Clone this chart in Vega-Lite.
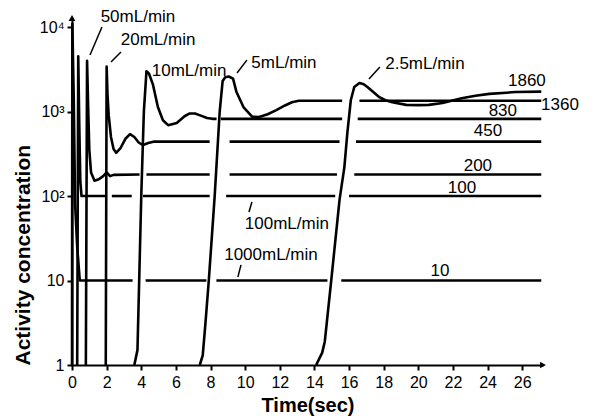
{
  "$schema": "https://vega.github.io/schema/vega-lite/v6.json",
  "width": 471,
  "height": 347,
  "autosize": {"type": "none"},
  "padding": {"left": 72, "top": 18, "right": 52, "bottom": 54},
  "background": "white",
  "config": {
    "view": {"stroke": null},
    "font": "Liberation Sans",
    "axis": {"grid": false, "domainColor": "black", "tickColor": "black", "labelColor": "black", "titleColor": "black", "labelFont": "Liberation Sans", "titleFont": "Liberation Sans", "labelOverlap": false, "labelFlush": false}
  },
  "datasets": {
    "curves": [
      {"s": "A", "t": 0, "c": 1}, {"s": "A", "t": 0.02, "c": 11000}, {"s": "A", "t": 0.1, "c": 1500}, {"s": "A", "t": 0.18, "c": 80}, {"s": "A", "t": 0.3, "c": 25}, {"s": "A", "t": 0.45, "c": 10}, {"s": "A", "t": 3.5, "c": 10},
      {"s": "L10b", "t": 4.25, "c": 10}, {"s": "L10b", "t": 7.76, "c": 10},
      {"s": "L10c", "t": 8.34, "c": 10}, {"s": "L10c", "t": 14.75, "c": 10},
      {"s": "L10d", "t": 15.55, "c": 10}, {"s": "L10d", "t": 27.1, "c": 10},
      {"s": "B", "t": 0.3, "c": 1}, {"s": "B", "t": 0.36, "c": 4500}, {"s": "B", "t": 0.42, "c": 700}, {"s": "B", "t": 0.48, "c": 150}, {"s": "B", "t": 0.55, "c": 100}, {"s": "B", "t": 2.0, "c": 100},
      {"s": "L100a", "t": 2.3, "c": 100}, {"s": "L100a", "t": 3.45, "c": 100},
      {"s": "L100b", "t": 4.1, "c": 100}, {"s": "L100b", "t": 7.95, "c": 100},
      {"s": "L100c", "t": 8.9, "c": 100}, {"s": "L100c", "t": 15.2, "c": 100},
      {"s": "L100d", "t": 16.0, "c": 100}, {"s": "L100d", "t": 27.1, "c": 100},
      {"s": "C", "t": 0.8, "c": 1}, {"s": "C", "t": 0.87, "c": 4000}, {"s": "C", "t": 0.93, "c": 1200}, {"s": "C", "t": 1.0, "c": 350}, {"s": "C", "t": 1.1, "c": 190}, {"s": "C", "t": 1.3, "c": 152}, {"s": "C", "t": 1.55, "c": 158}, {"s": "C", "t": 1.8, "c": 172}, {"s": "C", "t": 2.0, "c": 190}, {"s": "C", "t": 2.2, "c": 172}, {"s": "C", "t": 2.4, "c": 178}, {"s": "C", "t": 3.9, "c": 180},
      {"s": "L180b", "t": 4.3, "c": 180}, {"s": "L180b", "t": 7.95, "c": 180},
      {"s": "L180c", "t": 9.1, "c": 180}, {"s": "L180c", "t": 15.3, "c": 180},
      {"s": "L180d", "t": 16.3, "c": 180}, {"s": "L180d", "t": 27.1, "c": 180},
      {"s": "D", "t": 1.95, "c": 1}, {"s": "D", "t": 2.0, "c": 3400}, {"s": "D", "t": 2.05, "c": 1600}, {"s": "D", "t": 2.12, "c": 900}, {"s": "D", "t": 2.25, "c": 500}, {"s": "D", "t": 2.4, "c": 360}, {"s": "D", "t": 2.55, "c": 325}, {"s": "D", "t": 2.8, "c": 370}, {"s": "D", "t": 3.1, "c": 480}, {"s": "D", "t": 3.35, "c": 540}, {"s": "D", "t": 3.6, "c": 500}, {"s": "D", "t": 3.85, "c": 430}, {"s": "D", "t": 4.1, "c": 400}, {"s": "D", "t": 4.4, "c": 425}, {"s": "D", "t": 4.7, "c": 440}, {"s": "D", "t": 7.95, "c": 440},
      {"s": "L440c", "t": 9.1, "c": 440}, {"s": "L440c", "t": 15.45, "c": 440},
      {"s": "L440d", "t": 16.4, "c": 440}, {"s": "L440d", "t": 27.1, "c": 440},
      {"s": "E", "t": 3.6, "c": 1}, {"s": "E", "t": 3.78, "c": 1.5}, {"s": "E", "t": 3.88, "c": 10}, {"s": "E", "t": 4.0, "c": 100}, {"s": "E", "t": 4.15, "c": 1000}, {"s": "E", "t": 4.3, "c": 3000}, {"s": "E", "t": 4.45, "c": 2800}, {"s": "E", "t": 4.67, "c": 2100}, {"s": "E", "t": 4.96, "c": 1130}, {"s": "E", "t": 5.25, "c": 790}, {"s": "E", "t": 5.55, "c": 690}, {"s": "E", "t": 6.05, "c": 730}, {"s": "E", "t": 6.5, "c": 880}, {"s": "E", "t": 6.8, "c": 950}, {"s": "E", "t": 7.1, "c": 950}, {"s": "E", "t": 7.4, "c": 900}, {"s": "E", "t": 7.8, "c": 840}, {"s": "E", "t": 8.1, "c": 820}, {"s": "E", "t": 8.35, "c": 820},
      {"s": "L820b", "t": 8.6, "c": 820}, {"s": "L820b", "t": 15.6, "c": 820},
      {"s": "L820c", "t": 16.5, "c": 820}, {"s": "L820c", "t": 27.1, "c": 820},
      {"s": "F", "t": 7.38, "c": 1}, {"s": "F", "t": 7.55, "c": 1.3}, {"s": "F", "t": 7.7, "c": 3}, {"s": "F", "t": 7.9, "c": 10}, {"s": "F", "t": 8.24, "c": 100}, {"s": "F", "t": 8.53, "c": 1000}, {"s": "F", "t": 8.7, "c": 2300}, {"s": "F", "t": 8.85, "c": 2550}, {"s": "F", "t": 9.05, "c": 2600}, {"s": "F", "t": 9.3, "c": 2450}, {"s": "F", "t": 9.5, "c": 1700}, {"s": "F", "t": 9.9, "c": 1130}, {"s": "F", "t": 10.4, "c": 870}, {"s": "F", "t": 10.8, "c": 860}, {"s": "F", "t": 11.3, "c": 930}, {"s": "F", "t": 11.8, "c": 1040}, {"s": "F", "t": 12.3, "c": 1180}, {"s": "F", "t": 12.7, "c": 1290}, {"s": "F", "t": 13.1, "c": 1340}, {"s": "F", "t": 15.6, "c": 1340},
      {"s": "L1340b", "t": 16.6, "c": 1340}, {"s": "L1340b", "t": 27.1, "c": 1340},
      {"s": "G", "t": 14.1, "c": 1}, {"s": "G", "t": 14.45, "c": 1.4}, {"s": "G", "t": 14.6, "c": 1.9}, {"s": "G", "t": 14.97, "c": 10}, {"s": "G", "t": 15.45, "c": 90}, {"s": "G", "t": 15.73, "c": 220}, {"s": "G", "t": 15.9, "c": 555}, {"s": "G", "t": 16.1, "c": 1360}, {"s": "G", "t": 16.3, "c": 1950}, {"s": "G", "t": 16.6, "c": 2180}, {"s": "G", "t": 16.85, "c": 2100}, {"s": "G", "t": 17.06, "c": 1950}, {"s": "G", "t": 17.4, "c": 1700}, {"s": "G", "t": 17.75, "c": 1480}, {"s": "G", "t": 18.1, "c": 1360}, {"s": "G", "t": 18.5, "c": 1290}, {"s": "G", "t": 19.3, "c": 1200}, {"s": "G", "t": 20.0, "c": 1190}, {"s": "G", "t": 20.6, "c": 1200}, {"s": "G", "t": 21.4, "c": 1260}, {"s": "G", "t": 22.5, "c": 1440}, {"s": "G", "t": 23.3, "c": 1540}, {"s": "G", "t": 24.1, "c": 1620}, {"s": "G", "t": 25.6, "c": 1700}, {"s": "G", "t": 27.1, "c": 1720}
    ],
    "labels": [
      {"label": "50mL/min", "t": 3.81, "c": 13130},
      {"label": "20mL/min", "t": 4.97, "c": 7020},
      {"label": "10mL/min", "t": 6.76, "c": 3015},
      {"label": "5mL/min", "t": 12.24, "c": 3800},
      {"label": "2.5mL/min", "t": 20.38, "c": 3650},
      {"label": "1860", "t": 26.27, "c": 2296},
      {"label": "1360", "t": 28.18, "c": 1194},
      {"label": "830", "t": 24.88, "c": 1014},
      {"label": "450", "t": 24.02, "c": 588},
      {"label": "200", "t": 23.44, "c": 226},
      {"label": "100", "t": 22.52, "c": 124},
      {"label": "10", "t": 21.25, "c": 12.9},
      {"label": "100mL/min", "t": 12.41, "c": 46.6},
      {"label": "1000mL/min", "t": 11.49, "c": 20.0}
    ],
    "arrows": [
      {"t": 1.73, "c": 10000, "t2": 1.04, "c2": 4665},
      {"t": 2.83, "c": 5060, "t2": 2.25, "c2": 3855},
      {"t": 10.1, "c": 4065, "t2": 9.53, "c2": 2856},
      {"t": 17.78, "c": 3365, "t2": 17.15, "c2": 2425},
      {"t": 10.22, "c": 64.7, "t2": 10.39, "c2": 84.9},
      {"t": 9.76, "c": 15.3, "t2": 9.58, "c2": 11.0}
    ],
    "axisEnds": [
      {"t": 0, "c": 12800, "shape": "up"},
      {"t": 27.2, "c": 1, "shape": "right"}
    ]
  },
  "encoding": {
    "x": {
      "field": "t", "type": "quantitative",
      "scale": {"domain": [0, 27.2], "nice": false, "zero": false},
      "axis": {
        "title": "Time(sec)", "tickCount": 14,
        "labelFontSize": 16, "tickSize": 5, "tickWidth": 2, "domainWidth": 2, "labelPadding": 4,
        "titleFontSize": 20, "titleFontWeight": "bold", "titlePadding": 5, "labelFlush": false, "labelOverlap": false, "labelSeparation": 0
      }
    },
    "y": {
      "field": "c", "type": "quantitative",
      "scale": {"type": "log", "domain": [1, 12800], "nice": false},
      "axis": {
        "title": "Activity concentration", "values": [1, 10, 100, 1000, 10000],
        "labelExpr": "datum.value == 1 ? '1' : datum.value == 10 ? '10' : datum.value == 100 ? '10²' : datum.value == 1000 ? '10³' : '10⁴'",
        "labelFontSize": 16, "tickSize": 5, "tickWidth": 2, "domainWidth": 2, "labelPadding": 3,
        "titleFontSize": 21, "titleFontWeight": "bold", "titleAnchor": "start", "titlePadding": 6, "labelFlush": false, "labelOverlap": false
      }
    }
  },
  "layer": [
    {
      "data": {"name": "curves"},
      "mark": {"type": "line", "color": "black", "strokeWidth": 2.6, "strokeJoin": "round", "strokeCap": "butt"},
      "encoding": {
        "detail": {"field": "s"},
        "order": {"field": "t", "type": "quantitative"}
      }
    },
    {
      "data": {"name": "arrows"},
      "mark": {"type": "rule", "color": "black", "strokeWidth": 1.5},
      "encoding": {
        "x2": {"field": "t2"},
        "y2": {"field": "c2"}
      }
    },
    {
      "data": {"name": "labels"},
      "mark": {"type": "text", "fontSize": 17, "align": "center", "baseline": "middle", "color": "black"},
      "encoding": {
        "text": {"field": "label"}
      }
    },
    {
      "data": {"name": "axisEnds"},
      "transform": [{"filter": "datum.shape == 'up'"}],
      "mark": {"type": "point", "shape": "triangle-up", "filled": true, "color": "black", "size": 45, "opacity": 1},
      "encoding": {}
    },
    {
      "data": {"name": "axisEnds"},
      "transform": [{"filter": "datum.shape == 'right'"}],
      "mark": {"type": "point", "shape": "triangle-right", "filled": true, "color": "black", "size": 45, "opacity": 1},
      "encoding": {}
    }
  ]
}
